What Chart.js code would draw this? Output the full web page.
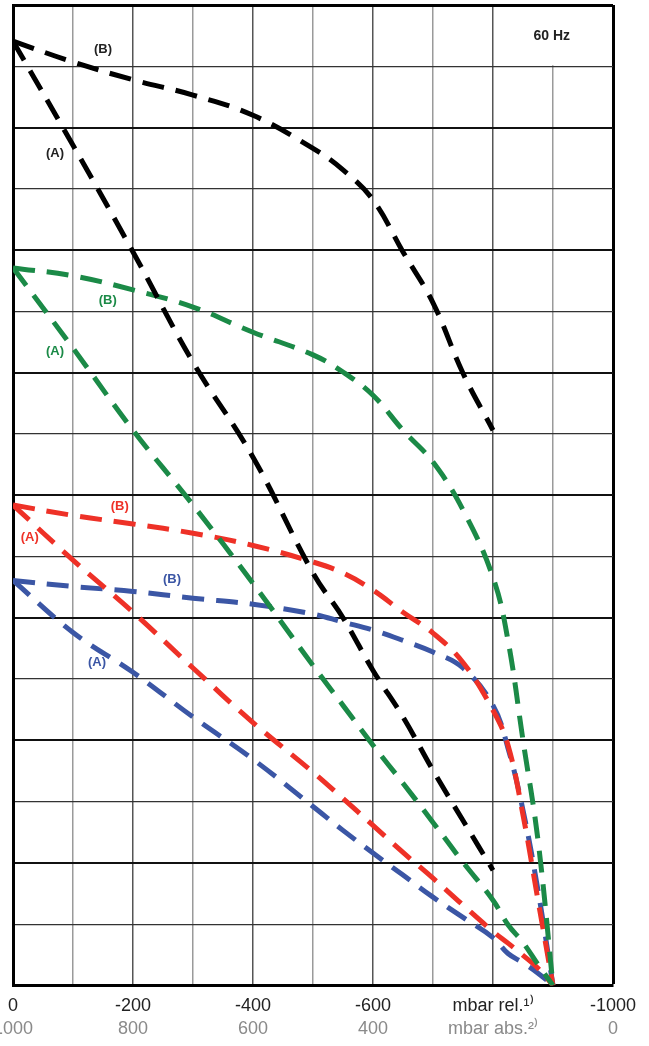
<!DOCTYPE html>
<html>
<head>
<meta charset="utf-8">
<title>60 Hz</title>
<script src="https://cdn.jsdelivr.net/npm/chart.js@4.4.1/dist/chart.umd.min.js"></script>
<style>
  html, body { margin: 0; padding: 0; background: #fff; }
  #wrap { width: 649px; height: 1046px; position: relative; }
</style>
</head>
<body>
<div id="wrap"><canvas id="curveChart"></canvas></div>
<script>
// pressure in mbar rel.
const pressureRel = [0, -100, -200, -300, -400, -500, -550, -600, -650, -700, -750, -800, -825, -850, -875, -900];

// curve values (grid units, 16 rows), null where a curve has ended
const blackB = [15.41, 15.07, 14.78, 14.53, 14.20, 13.66, 13.31, 12.82, 11.97, 11.14, 9.99, 9.06, null, null, null, null];
const blackA = [15.41, 13.71, 11.97, 10.17, 8.62, 6.73, 6.0, 5.14, 4.38, 3.51, 2.69, 1.88, null, null, null, null];
const greenB = [11.71, 11.58, 11.35, 11.07, 10.66, 10.29, 10.01, 9.63, 9.06, 8.54, 7.76, 6.66, 5.63, 4.0, 2.37, 0];
const greenA = [11.71, 10.40, 9.06, 7.84, 6.56, 5.22, 4.57, 3.92, 3.30, 2.66, 2.01, 1.39, 0.99, 0.70, 0.34, 0];
const redB = [7.84, 7.67, 7.53, 7.38, 7.18, 6.91, 6.73, 6.45, 6.09, 5.75, 5.27, 4.49, 3.92, 2.78, 1.39, 0];
const redA = [7.84, 6.94, 6.09, 5.18, 4.29, 3.48, 3.05, 2.61, 2.17, 1.75, 1.31, 0.88, 0.69, 0.49, 0.28, 0];
const blueB = [6.61, 6.51, 6.43, 6.32, 6.22, 6.06, 5.93, 5.80, 5.63, 5.44, 5.18, 4.57, 3.87, 2.86, 1.55, 0];
const blueA = [6.61, 5.76, 5.11, 4.38, 3.69, 2.92, 2.53, 2.16, 1.80, 1.44, 1.11, 0.78, 0.52, 0.37, 0.20, 0];

// axis labels
const tickValues = [0, -200, -400, -600, -800, -1000];
const relLabels = ['0', '-200', '-400', '-600', 'mbar rel.\u00B9\u207E', '-1000'];
const absLabels = ['1000', '800', '600', '400', 'mbar abs.\u00B2\u207E', '0'];

// curve tags: [text, x, y, colour]
const curveTags = [
    ['(B)', -150, 15.27, '#222'],
    ['(A)', -70, 13.58, '#222'],
    ['(B)', -158, 11.18, '#1b8a47'],
    ['(A)', -70, 10.35, '#1b8a47'],
    ['(B)', -178, 7.82, '#ee3127'],
    ['(A)', -28, 7.31, '#ee3127'],
    ['(B)', -265, 6.63, '#3b56a5'],
    ['(A)', -140, 5.27, '#3b56a5']
];
const freqLabel = '60 Hz';

document.addEventListener('DOMContentLoaded', function() {

    function toPoints(values) {
        const pts = [];
        values.forEach((v, i) => {
            if (v !== null) pts.push({ x: pressureRel[i], y: v });
        });
        return pts;
    }

    function curve(values, color) {
        return {
            data: toPoints(values),
            borderColor: color,
            borderWidth: 5,
            borderDash: [22, 12],
            pointRadius: 0,
            fill: false,
            tension: 0.4
        };
    }

    const tagPlugin = {
        id: 'tagPlugin',
        beforeDatasetsDraw(chart) {
            const { ctx, scales: { x, y } } = chart;
            // the 60 Hz box has no inner grid line
            const gx = x.getPixelForValue(-900);
            const top = y.getPixelForValue(16);
            const bottom = y.getPixelForValue(15);
            ctx.save();
            ctx.fillStyle = '#fff';
            ctx.fillRect(gx - 2, top + 2, 4, bottom - top - 3);
            ctx.restore();
        },
        afterDatasetsDraw(chart) {
            const { ctx, scales: { x, y } } = chart;
            ctx.save();
            ctx.textAlign = 'center';
            ctx.textBaseline = 'middle';
            ctx.font = 'bold 13px "Liberation Sans", Arial, sans-serif';
            curveTags.forEach(t => {
                ctx.fillStyle = t[3];
                ctx.fillText(t[0], x.getPixelForValue(t[1]), y.getPixelForValue(t[2]));
            });
            ctx.fillStyle = '#222';
            ctx.font = 'bold 14px "Liberation Sans", Arial, sans-serif';
            ctx.fillText(freqLabel, x.getPixelForValue(-898), y.getPixelForValue(15.49));
            ctx.restore();
        }
    };

    const tickFont = { family: '"Liberation Sans", Arial, sans-serif', size: 18 };

    const ctx = document.getElementById('curveChart').getContext('2d');
    new Chart(ctx, {
        type: 'line',
        data: {
            datasets: [
                curve(blackB, '#000000'),
                curve(blackA, '#000000'),
                curve(greenB, '#1b8a47'),
                curve(greenA, '#1b8a47'),
                curve(redB, '#ee3127'),
                curve(redA, '#ee3127'),
                curve(blueB, '#3b56a5'),
                curve(blueA, '#3b56a5')
            ]
        },
        options: {
            responsive: true,
            maintainAspectRatio: false,
            animation: false,
            layout: {
                padding: { left: 13, right: 36, top: 5, bottom: 5 }
            },
            plugins: {
                legend: { display: false },
                tooltip: { enabled: false }
            },
            scales: {
                x: {
                    type: 'linear',
                    position: 'bottom',
                    weight: 0,
                    min: -1000,
                    max: 0,
                    reverse: true,
                    border: { color: '#000', width: 3 },
                    grid: {
                        drawTicks: false,
                        color: c => c.tick.value === -1000 ? '#000' : (c.tick.value % 200 === 0 ? '#555' : '#9a9a9a'),
                        lineWidth: c => c.tick.value === -1000 ? 3 : 1.5
                    },
                    ticks: {
                        stepSize: 100,
                        autoSkip: false,
                        maxRotation: 0,
                        minRotation: 0,
                        padding: 10,
                        color: '#222',
                        font: tickFont,
                        callback: v => {
                            const i = tickValues.indexOf(v);
                            return i >= 0 ? relLabels[i] : '';
                        }
                    },
                    afterFit: s => { s.paddingLeft = 0; s.paddingRight = 0; s.height = 32; }
                },
                x2: {
                    type: 'linear',
                    position: 'bottom',
                    weight: 1,
                    min: -1000,
                    max: 0,
                    reverse: true,
                    border: { display: false },
                    grid: { display: false, drawTicks: false },
                    ticks: {
                        stepSize: 100,
                        autoSkip: false,
                        maxRotation: 0,
                        minRotation: 0,
                        padding: 1,
                        color: '#8a8a8a',
                        font: tickFont,
                        callback: v => {
                            const i = tickValues.indexOf(v);
                            return i >= 0 ? absLabels[i] : '';
                        }
                    },
                    afterFit: s => { s.paddingLeft = 0; s.paddingRight = 0; }
                },
                y: {
                    type: 'linear',
                    min: 0,
                    max: 16,
                    border: { color: '#000', width: 3 },
                    grid: {
                        drawTicks: false,
                        color: c => c.tick.value === 16 ? '#000' : (c.tick.value % 2 === 0 ? '#111' : '#333'),
                        lineWidth: c => c.tick.value === 16 ? 3 : (c.tick.value % 2 === 0 ? 2 : 1.2)
                    },
                    ticks: { display: false, stepSize: 1 }
                }
            }
        },
        plugins: [tagPlugin]
    });
});
</script>
</body>
</html>
